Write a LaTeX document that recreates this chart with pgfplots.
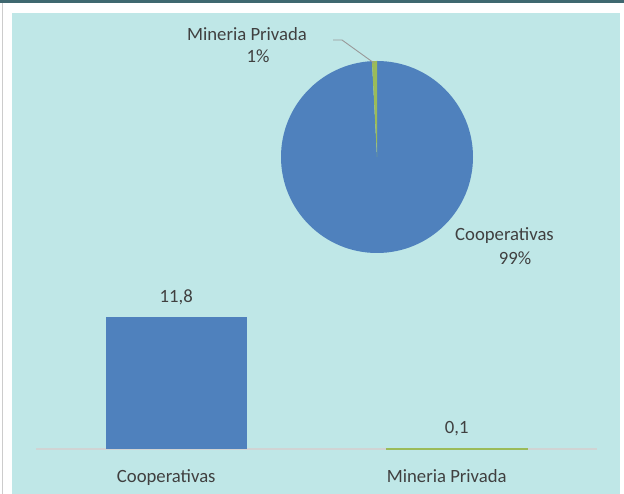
\documentclass[border=0pt]{standalone}
\usepackage{pgfplots}
\pgfplotsset{compat=1.18}
\usepackage{fontspec}
\setmainfont{Carlito}

\definecolor{bgcyan}{HTML}{BFE7E7}
\definecolor{topbar}{HTML}{3F6870}
\definecolor{barblue}{HTML}{4F81BD}
\definecolor{bargreen}{HTML}{9BBB59}
\definecolor{txtgray}{HTML}{404040}
\definecolor{axisgray}{HTML}{D0D4D4}

\newcommand{\lblfont}{\fontsize{18.7}{22}\selectfont}

% values: Cooperativas, Mineria Privada
\def\vCoop{11.8}
\def\vMin{0.1}

\begin{document}
\begin{tikzpicture}[x=1pt,y=1pt]
  % frame and background
  \useasboundingbox (0,0) rectangle (624,494);
  \fill[white] (0,0) rectangle (624,494);
  \fill[topbar] (0,491) rectangle (624,494);
  \fill[black!20] (2,0) rectangle (3.2,491);
  \fill[bgcyan] (12,0) rectangle (620,481);

  % bar chart
  \begin{axis}[
    at={(36pt,45pt)}, anchor=south west,
    width=561pt, height=132pt, scale only axis,
    xmin=-0.5, xmax=1.5, ymin=0, ymax=11.8,
    clip=false,
    ybar, bar width=141pt, bar shift=0pt,
    axis x line=bottom, axis y line=none,
    x axis line style={-, draw=axisgray, line width=1.5pt},
    xtick={0,1}, xticklabels={Cooperativas, Mineria Privada},
    xtick style={draw=none},
    xticklabel style={font=\lblfont, text=txtgray, anchor=base, yshift=-31pt, xshift=-10pt, inner sep=0pt},
    ytick=\empty,
    nodes near coords,
    /pgf/number format/.cd, fixed, fixed zerofill, precision=1, use comma, assume math mode=true,
    /pgfplots/.cd,
    every node near coord/.append style={font=\lblfont, text=txtgray, anchor=base, yshift=14.5pt, inner sep=0pt},
  ]
    \addplot[draw=none, fill=barblue] coordinates {(0,11.8)};
    \addplot[draw=bargreen, fill=bargreen] coordinates {(1,0.1)};
  \end{axis}

  % pie chart
  \begin{axis}[
    at={(281pt,241pt)}, anchor=south west,
    width=192pt, height=192pt, scale only axis,
    xmin=-1, xmax=1, ymin=-1, ymax=1,
    hide axis, clip=false,
  ]
    \pgfmathsetmacro{\angMin}{360*\vMin/(\vCoop+\vMin)}
    \pgfmathsetmacro{\endCoop}{90-360+\angMin}
    \fill[barblue] (axis cs:0,0) -- (axis cs:0,1) arc[start angle=90, end angle=\endCoop, radius=96pt] -- cycle;
    \fill[bargreen] (axis cs:0,0) -- (axis cs:0,1) arc[start angle=90, end angle=90+\angMin, radius=96pt] -- cycle;
  \end{axis}

  % pie labels
  \draw[gray!80, line width=0.9pt] (333,454) -- (342,454) -- (374,431);
  \node[font=\lblfont, text=txtgray, anchor=base, inner sep=0pt] at (247,453) {Mineria Privada};
  \node[font=\lblfont, text=txtgray, anchor=base, inner sep=0pt] at (258,431) {1\%};
  \node[font=\lblfont, text=txtgray, anchor=base, inner sep=0pt] at (504.5,253) {Cooperativas};
  \node[font=\lblfont, text=txtgray, anchor=base, inner sep=0pt] at (515,229) {99\%};
\end{tikzpicture}
\end{document}
